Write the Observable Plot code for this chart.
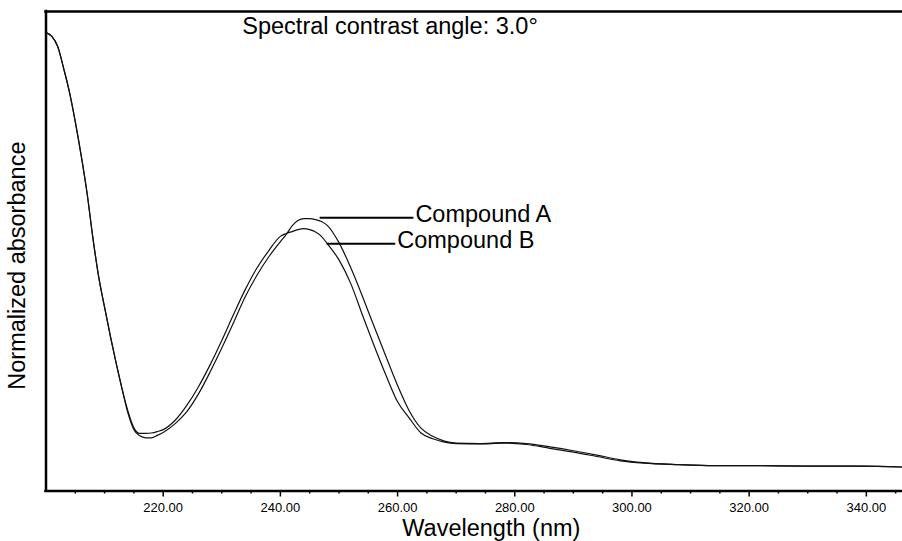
<!DOCTYPE html>
<html>
<head>
<meta charset="utf-8">
<script src="https://cdn.jsdelivr.net/npm/d3@7"></script>
<script src="https://cdn.jsdelivr.net/npm/@observablehq/plot@0.6"></script>
<style>
  html, body { margin: 0; padding: 0; background: #fff; }
  #chart svg { display: block; }
</style>
</head>
<body>
<div id="chart"></div>
<script>
// Wavelength grid (nm) shared by both spectra
const wavelength = [200, 201, 202, 203, 204, 205, 206, 207, 208, 209, 210, 211, 212, 213, 214, 215, 216, 217, 218, 219, 220, 222, 224, 226, 228, 230, 232, 234, 236, 238, 240, 241, 242, 243, 244, 245, 246, 247, 248, 250, 252, 254, 256, 258, 260, 262, 264, 266, 268, 270, 274, 278, 282, 286, 290, 294, 298, 302, 308, 314, 320, 330, 339, 346];
// Normalized absorbance
const compoundA = [0.956, 0.948, 0.927, 0.882, 0.832, 0.770, 0.700, 0.622, 0.528, 0.446, 0.383, 0.322, 0.265, 0.212, 0.162, 0.128, 0.115, 0.111, 0.111, 0.116, 0.122, 0.140, 0.165, 0.202, 0.248, 0.298, 0.351, 0.405, 0.450, 0.488, 0.520, 0.535, 0.553, 0.564, 0.568, 0.568, 0.566, 0.562, 0.554, 0.518, 0.466, 0.406, 0.343, 0.281, 0.220, 0.167, 0.131, 0.114, 0.104, 0.100, 0.099, 0.101, 0.099, 0.092, 0.084, 0.075, 0.065, 0.059, 0.055, 0.053, 0.053, 0.052, 0.052, 0.050];
const compoundB = [0.956, 0.948, 0.927, 0.882, 0.832, 0.770, 0.700, 0.622, 0.528, 0.446, 0.383, 0.322, 0.265, 0.212, 0.166, 0.132, 0.120, 0.120, 0.121, 0.124, 0.128, 0.147, 0.178, 0.217, 0.263, 0.314, 0.368, 0.420, 0.465, 0.501, 0.531, 0.537, 0.541, 0.545, 0.547, 0.545, 0.540, 0.531, 0.516, 0.482, 0.433, 0.367, 0.303, 0.242, 0.186, 0.152, 0.121, 0.109, 0.102, 0.099, 0.098, 0.100, 0.097, 0.089, 0.081, 0.072, 0.063, 0.058, 0.055, 0.053, 0.053, 0.052, 0.052, 0.050];

// Axis ticks
const majorTicks = [220, 240, 260, 280, 300, 320, 340];
const minorTicks = [205, 210, 215, 225, 230, 235, 245, 250, 255, 265, 270, 275, 285, 290, 295, 305, 310, 315, 325, 330, 335, 345];

// Labels with leader lines
const labelNames = ["Compound A", "Compound B"];
const labelFrom = [246.7, 247.9];
const labelTo = [262.7, 259.6];
const labelLevel = [0.570, 0.5155];

const titleText = "Spectral contrast angle: 3.0°";
const titleX = [233.5];
const titleLevel = [0.969];
const xLabel = "Wavelength (nm)";
const xLabelAt = [276];
const yLabel = "Normalized absorbance";
const yLabelX = [195.1];
const yLabelAt = [0.470];

const spectra = [
  ...wavelength.map((w, i) => ({w, v: compoundA[i], s: "A"})),
  ...wavelength.map((w, i) => ({w, v: compoundB[i], s: "B"}))
];
const leaders = labelNames.map((name, i) => ({name, x1: labelFrom[i], x2: labelTo[i], y: labelLevel[i]}));

const FONT = "Liberation Sans, Arial, sans-serif";

const chart = Plot.plot({
  width: 902,
  height: 541,
  marginLeft: 45.5,
  marginRight: 1,
  marginTop: 11,
  marginBottom: 50.5,
  x: {domain: [200, 346]},
  y: {domain: [0, 1], axis: null},
  style: {fontFamily: FONT, background: "#fff", color: "#000"},
  marks: [
    Plot.line(spectra, {x: "w", y: "v", z: "s", stroke: "#111", strokeWidth: 1.2, curve: "monotone-x"}),
    Plot.link(leaders, {x1: "x1", x2: "x2", y1: "y", y2: "y", stroke: "#000", strokeWidth: 2}),
    Plot.text(leaders, {x: "x2", y: "y", text: "name", textAnchor: "start", dx: 2, dy: -3, fontSize: 23.5, fill: "#000"}),
    Plot.text([titleText], {x: titleX, y: titleLevel, text: d => d, textAnchor: "start", fontSize: 23.5, fill: "#000"}),
    Plot.axisX({ticks: majorTicks, tickFormat: d => d.toFixed(2), tickSize: 6, tickPadding: 6, strokeWidth: 1.5, fontSize: 13, label: null, fill: "#000"}),
    Plot.axisX({ticks: minorTicks, tickFormat: () => "", tickSize: 3, strokeWidth: 1.5, label: null}),
    Plot.ruleY([0], {stroke: "#000", strokeWidth: 2.5, strokeLinecap: "square"}),
    Plot.ruleY([1], {stroke: "#000", strokeWidth: 2.5, strokeLinecap: "square"}),
    Plot.ruleX([200], {stroke: "#000", strokeWidth: 2.5, strokeLinecap: "square"}),
    Plot.text([xLabel], {x: xLabelAt, frameAnchor: "bottom", lineAnchor: "middle", text: d => d, dy: 37, fontSize: 23.5, fill: "#000"}),
    Plot.text([yLabel], {x: yLabelX, y: yLabelAt, text: d => d, rotate: -90, textAnchor: "middle", lineAnchor: "middle", fontSize: 23.5, fill: "#000"})
  ]
});
document.getElementById("chart").appendChild(chart);
</script>
</body>
</html>
